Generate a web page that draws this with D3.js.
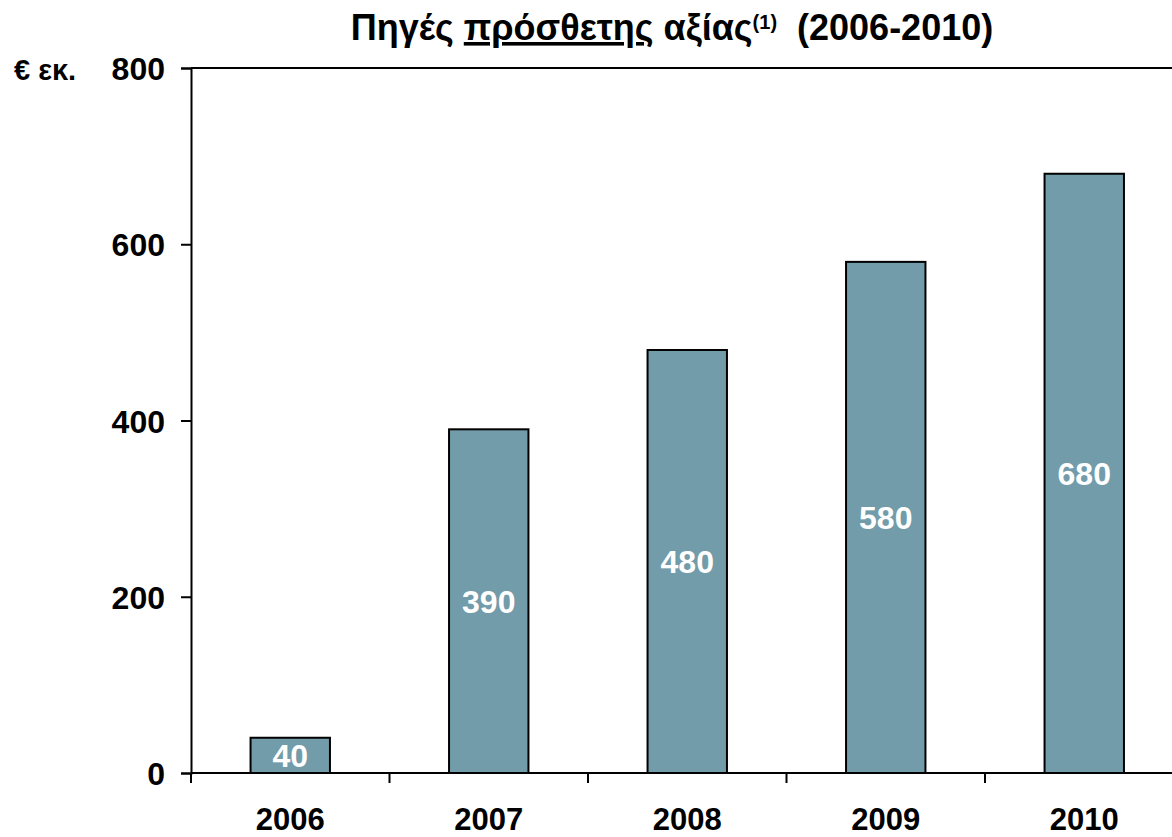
<!DOCTYPE html>
<html>
<head>
<meta charset="utf-8">
<script src="https://cdn.jsdelivr.net/npm/d3@7"></script>
<style>
  body { margin: 0; background: #fff; }
  text { font-family: "Liberation Sans", Arial, sans-serif; font-weight: bold; }
</style>
</head>
<body>
<div id="chart"></div>
<script>
// chart data
var years  = ["2006", "2007", "2008", "2009", "2010"];
var values = [40, 390, 480, 580, 680];
var yTicks = [0, 200, 400, 600, 800];

var width = 1172, height = 837;
var margin = {top: 68, left: 191, bottom: 773};
var step = 198.5;

var svg = d3.select("#chart").append("svg")
            .attr("width", width)
            .attr("height", height);

var x = d3.scaleBand()
          .domain(years)
          .range([margin.left, margin.left + step * years.length])
          .paddingInner(0.6)
          .paddingOuter(0.3);

var y = d3.scaleLinear()
          .domain([0, 800])
          .range([margin.bottom, margin.top]);

// top border of plot area
svg.append("line")
   .attr("x1", margin.left).attr("x2", width)
   .attr("y1", y(800)).attr("y2", y(800))
   .attr("stroke", "#000").attr("stroke-width", 2);

// bars
svg.selectAll("rect.bar")
   .data(years)
   .enter().append("rect")
   .attr("class", "bar")
   .attr("x", function(d) { return x(d); })
   .attr("y", function(d, i) { return y(values[i]); })
   .attr("width", x.bandwidth())
   .attr("height", function(d, i) { return y(0) - y(values[i]); })
   .attr("fill", "#729ca9")
   .attr("stroke", "#000")
   .attr("stroke-width", 2);

// value labels, middle of each bar
svg.selectAll("text.val")
   .data(years)
   .enter().append("text")
   .attr("class", "val")
   .attr("x", function(d) { return x(d) + x.bandwidth() / 2; })
   .attr("y", function(d, i) { return (y(values[i]) + y(0)) / 2; })
   .attr("dy", "0.36em")
   .attr("text-anchor", "middle")
   .attr("fill", "#fff")
   .style("font-size", "32px")
   .text(function(d, i) { return values[i]; });

// y axis
var yAxis = d3.axisLeft(y)
              .tickValues(yTicks)
              .tickSize(10)
              .tickPadding(16)
              .tickFormat(d3.format("d"));
var yGroup = svg.append("g")
                .attr("transform", "translate(" + margin.left + ",0)")
                .call(yAxis);
yGroup.select(".domain").attr("stroke-width", 2);
yGroup.selectAll(".tick line").attr("stroke-width", 2);
yGroup.selectAll(".tick text")
      .attr("fill", "#000")
      .attr("dy", "0.36em")
      .style("font-size", "32px")
      .style("font-family", "'Liberation Sans', Arial, sans-serif")
      .style("font-weight", "bold");

// x axis line with category boundary ticks
svg.append("line")
   .attr("x1", margin.left).attr("x2", width)
   .attr("y1", y(0)).attr("y2", y(0))
   .attr("stroke", "#000").attr("stroke-width", 2);

var bounds = years.map(function(d) { return x(d) - x.step() * x.paddingOuter(); });
svg.selectAll("line.xtick")
   .data(bounds)
   .enter().append("line")
   .attr("class", "xtick")
   .attr("x1", function(d) { return d; }).attr("x2", function(d) { return d; })
   .attr("y1", y(0)).attr("y2", y(0) + 10)
   .attr("stroke", "#000").attr("stroke-width", 2);

svg.selectAll("text.xlab")
   .data(years)
   .enter().append("text")
   .attr("class", "xlab")
   .attr("x", function(d) { return x(d) + x.bandwidth() / 2; })
   .attr("y", 830)
   .attr("text-anchor", "middle")
   .style("font-size", "31px")
   .text(function(d) { return d; });

// unit label
svg.append("text")
   .attr("x", 14)
   .attr("y", 80)
   .style("font-size", "29px")
   .text("€ εκ.");

// title
var title = svg.append("text")
               .attr("x", 672)
               .attr("y", 40)
               .attr("text-anchor", "middle")
               .style("font-size", "36px");
title.append("tspan").text("Πηγές ");
title.append("tspan").attr("text-decoration", "underline").text("πρόσθετης");
title.append("tspan").text(" αξίας");
title.append("tspan").attr("dy", -11).style("font-size", "20px").text("(1)");
title.append("tspan").attr("dy", 11).attr("xml:space", "preserve").text("  (2006-2010)");
</script>
</body>
</html>
